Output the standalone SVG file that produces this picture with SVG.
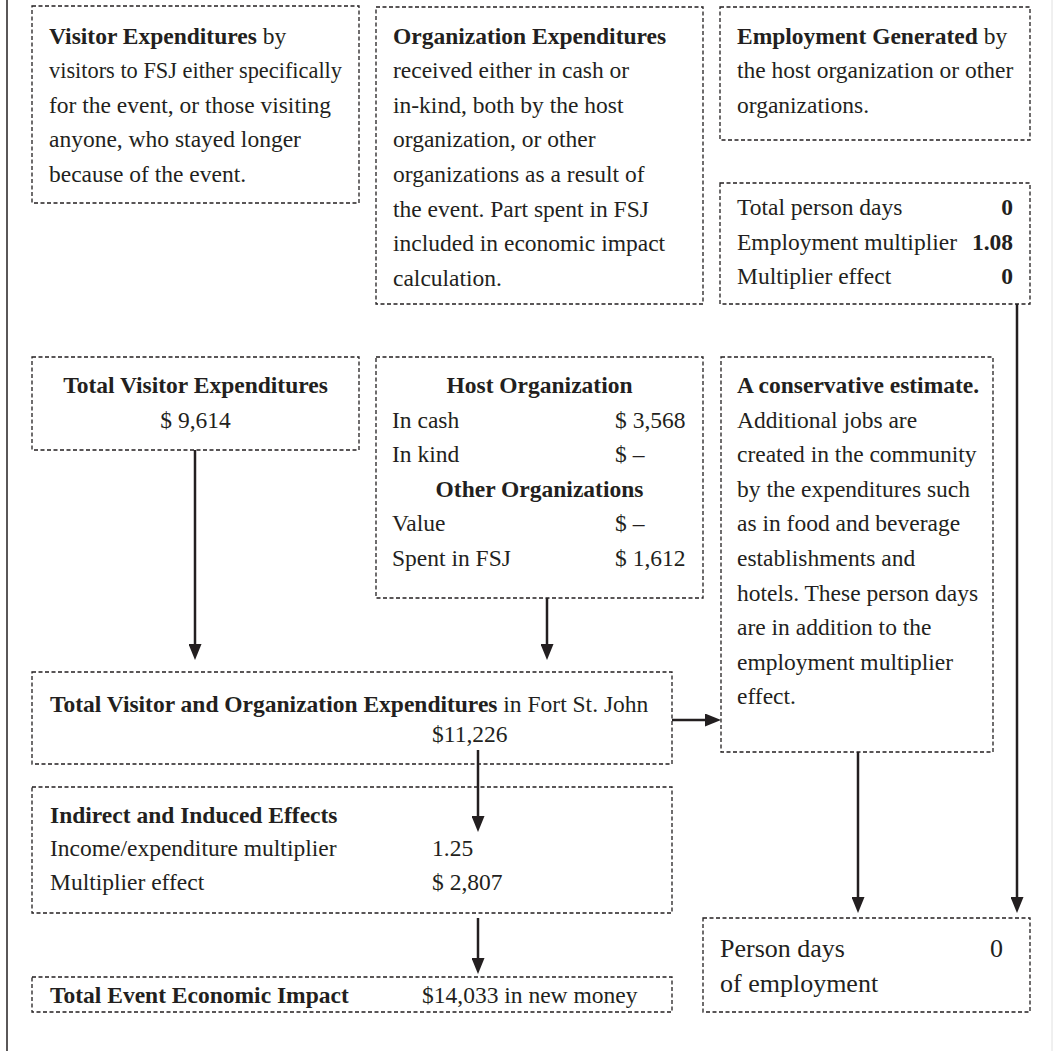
<svg xmlns="http://www.w3.org/2000/svg" width="1053" height="1051" viewBox="0 0 1053 1051">
<style>
.box{fill:none;stroke:#231f20;stroke-width:1.3;stroke-dasharray:4 2.5}
text{font-family:"Liberation Serif","Times New Roman",serif;font-size:23.5px;fill:#231f20}
.b{font-weight:bold}
.c{text-anchor:middle}
.r{text-anchor:end}
.big{font-size:26px}
.conn path{fill:none;stroke:#231f20;stroke-width:2.5}
</style>
<defs>
<marker id="ah" markerUnits="userSpaceOnUse" markerWidth="16" markerHeight="13" refX="6" refY="6.5" orient="auto">
<path d="M0,0 L16,6.5 L0,13 z" fill="#231f20"/>
</marker>
</defs>
<rect width="1053" height="1051" fill="#fff"/>
<line x1="7" y1="0" x2="7" y2="1051" stroke="#231f20" stroke-width="1.5"/>
<line x1="1052" y1="0" x2="1052" y2="1051" stroke="#e0e0e0" stroke-width="1"/>

<g id="visitor-expenditures">
<rect class="box" x="32" y="6" width="327" height="197"/>
<text x="49" y="43.5"><tspan class="b">Visitor Expenditures</tspan> by</text>
<text x="49" y="78.1" textLength="293" lengthAdjust="spacingAndGlyphs">visitors to FSJ either specifically</text>
<text x="49" y="112.7">for the event, or those visiting</text>
<text x="49" y="147.3">anyone, who stayed longer</text>
<text x="49" y="181.9">because of the event.</text>
</g>

<g id="organization-expenditures">
<rect class="box" x="376" y="7" width="327" height="297"/>
<text x="393" y="43.5" class="b">Organization Expenditures</text>
<text x="393" y="78.1">received either in cash or</text>
<text x="393" y="112.7">in-kind, both by the host</text>
<text x="393" y="147.3">organization, or other</text>
<text x="393" y="181.9">organizations as a result of</text>
<text x="393" y="216.5">the event. Part spent in FSJ</text>
<text x="393" y="251.1">included in economic impact</text>
<text x="393" y="285.7">calculation.</text>
</g>

<g id="employment-generated">
<rect class="box" x="720" y="7" width="310" height="133"/>
<text x="737" y="43.5"><tspan class="b">Employment Generated</tspan> by</text>
<text x="737" y="78.1">the host organization or other</text>
<text x="737" y="112.7">organizations.</text>
</g>

<g id="employment-multiplier">
<rect class="box" x="720" y="183" width="310" height="121"/>
<text x="737" y="215">Total person days</text>
<text x="1013" y="215" class="b r">0</text>
<text x="737" y="249.6">Employment multiplier</text>
<text x="1013" y="249.6" class="b r">1.08</text>
<text x="737" y="284.2">Multiplier effect</text>
<text x="1013" y="284.2" class="b r">0</text>
</g>

<g id="total-visitor-expenditures">
<rect class="box" x="32" y="357" width="327" height="93"/>
<text x="195.5" y="393" class="b c">Total Visitor Expenditures</text>
<text x="195.5" y="428" class="c">$ 9,614</text>
</g>

<g id="host-organization">
<rect class="box" x="376" y="357" width="327" height="241"/>
<text x="539.5" y="393" class="b c">Host Organization</text>
<text x="392" y="427.6">In cash</text>
<text x="615" y="427.6">$ 3,568</text>
<text x="392" y="462.2">In kind</text>
<text x="615" y="462.2">$ –</text>
<text x="539.5" y="496.8" class="b c">Other Organizations</text>
<text x="392" y="531.4">Value</text>
<text x="615" y="531.4">$ –</text>
<text x="392" y="566">Spent in FSJ</text>
<text x="615" y="566">$ 1,612</text>
</g>

<g id="conservative-estimate">
<rect class="box" x="721" y="357" width="272" height="395"/>
<text x="737" y="393" class="b">A conservative estimate.</text>
<text x="737" y="427.6">Additional jobs are</text>
<text x="737" y="462.2">created in the community</text>
<text x="737" y="496.8">by the expenditures such</text>
<text x="737" y="531.4">as in food and beverage</text>
<text x="737" y="566">establishments and</text>
<text x="737" y="600.6">hotels. These person days</text>
<text x="737" y="635.2">are in addition to the</text>
<text x="737" y="669.8">employment multiplier</text>
<text x="737" y="704.4">effect.</text>
</g>

<g id="total-fsj-expenditures">
<rect class="box" x="32" y="672" width="640" height="92"/>
<text x="50" y="712"><tspan class="b">Total Visitor and Organization Expenditures</tspan> in Fort St. John</text>
<text x="432" y="742">$11,226</text>
</g>

<g id="indirect-effects">
<rect class="box" x="32" y="787" width="640" height="126"/>
<text x="50" y="823" class="b">Indirect and Induced Effects</text>
<text x="50" y="856">Income/expenditure multiplier</text>
<text x="432" y="856">1.25</text>
<text x="50" y="890">Multiplier effect</text>
<text x="432" y="890">$ 2,807</text>
</g>

<g id="total-impact">
<rect class="box" x="32" y="977" width="640" height="35"/>
<text x="50" y="1003" class="b">Total Event Economic Impact</text>
<text x="422" y="1003">$14,033 in new money</text>
</g>

<g id="person-days">
<rect class="box" x="703" y="918" width="327" height="94"/>
<text x="720" y="957" class="big">Person days</text>
<text x="1003" y="957" class="big r">0</text>
<text x="720" y="992" class="big">of employment</text>
</g>

<g id="connectors" class="conn">
<path d="M195,450 V650" marker-end="url(#ah)"/>
<path d="M547,598 V650" marker-end="url(#ah)"/>
<path d="M672,720 H711" marker-end="url(#ah)"/>
<path d="M478,750 V822" marker-end="url(#ah)"/>
<path d="M478,918 V964" marker-end="url(#ah)"/>
<path d="M858,752 V903" marker-end="url(#ah)"/>
<path d="M1017,304 V903" marker-end="url(#ah)"/>
</g>
</svg>
